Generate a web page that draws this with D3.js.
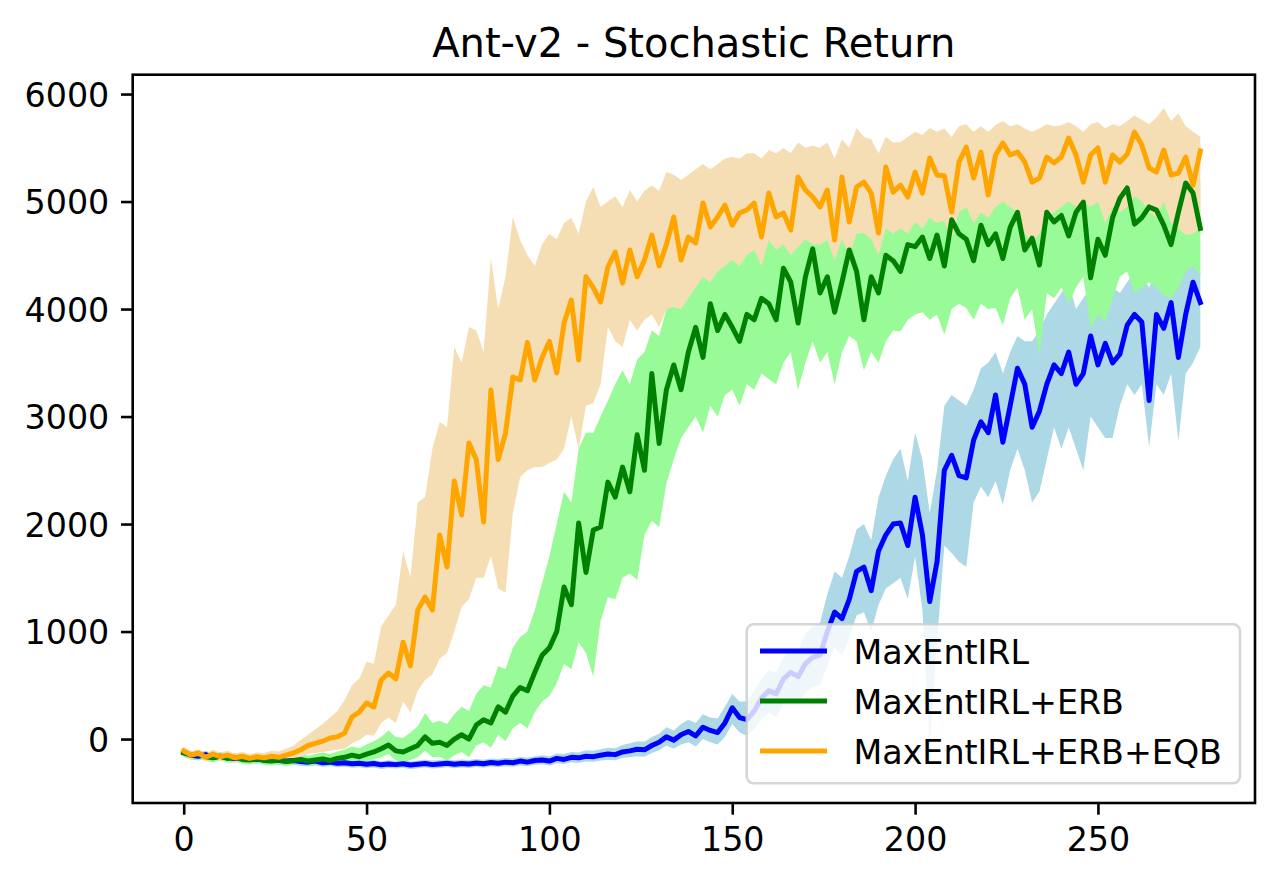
<!DOCTYPE html>
<html>
<head>
<meta charset="utf-8">
<script src="https://cdn.jsdelivr.net/npm/d3@7"></script>
<style>
  body { margin: 0; background: #fff; }
  svg { display: block; font-family: "DejaVu Sans", sans-serif; }
</style>
</head>
<body>
<div id="chart"></div>
<script>
// Ant-v2 - Stochastic Return : moyenne + bande par méthode, un point tous les 2 pas.
const steps = d3.range(0, 280, 2)

const maxentMean = [
  -120,-150,-160,-145,-170,-160,-175,-180,-170,-185,
  -190,-185,-195,-200,-205,-200,-210,-215,-205,-220,
  -215,-225,-220,-230,-225,-235,-228,-240,-232,-238,
  -230,-242,-235,-228,-238,-232,-225,-235,-228,-232,
  -222,-230,-218,-225,-215,-220,-205,-215,-200,-195,
  -205,-180,-190,-170,-175,-160,-165,-150,-140,-145,
  -120,-110,-95,-100,-60,-30,20,-10,40,70,
  30,110,80,60,150,290,200,180,260,380,
  450,420,560,620,580,700,760,780,1000,1180,
  1120,1300,1560,1600,1380,1750,1900,2000,2010,1800,
  2250,1900,1280,1650,2500,2640,2450,2430,2780,2950,
  2850,3200,2760,3100,3450,3300,2900,3050,3300,3480,
  3400,3600,3300,3400,3750,3480,3680,3500,3580,3850,
  3950,3880,3150,3950,3820,4060,3550,3950,4250,4060]
const maxentLo = [
  -160,-190,-200,-185,-205,-200,-215,-220,-210,-225,
  -230,-225,-235,-240,-245,-240,-250,-255,-245,-258,
  -252,-262,-258,-268,-262,-272,-265,-278,-270,-275,
  -268,-280,-272,-265,-275,-270,-262,-272,-265,-270,
  -260,-268,-256,-262,-254,-258,-245,-252,-240,-235,
  -245,-225,-232,-215,-222,-210,-212,-200,-195,-198,
  -175,-170,-160,-165,-130,-105,-60,-90,-50,-30,
  -70,0,-30,-50,20,140,60,30,90,190,
  250,200,330,380,330,430,480,500,680,850,
  780,940,1150,1180,1000,1250,1400,1450,1500,1300,
  1700,1200,-50,900,1800,1730,1650,1600,2200,2350,
  2250,2400,2180,2500,2700,2500,2200,2300,2600,2900,
  2700,2900,2700,2500,3000,2900,2800,2800,3100,3300,
  3200,3300,2720,3300,3200,3400,2770,3400,3500,3650]
const maxentHi = [
  -90,-110,-125,-110,-135,-125,-140,-145,-135,-150,
  -155,-150,-160,-165,-170,-165,-175,-180,-170,-185,
  -180,-190,-185,-195,-190,-200,-195,-205,-198,-202,
  -195,-208,-200,-192,-200,-195,-188,-198,-190,-195,
  -185,-192,-180,-186,-176,-180,-165,-175,-160,-150,
  -160,-135,-140,-120,-125,-105,-110,-95,-80,-85,
  -55,-40,-20,-25,20,50,110,80,140,180,
  150,230,200,190,300,420,350,350,450,560,
  640,620,760,850,830,980,1050,1080,1350,1560,
  1500,1700,1950,2000,1850,2250,2450,2600,2700,2400,
  2850,2600,2100,2500,3100,3200,3150,3100,3250,3450,
  3500,3600,3400,3600,3750,3700,3700,3800,3950,4050,
  4150,4250,4000,4100,4200,4150,4250,4200,4150,4250,
  4350,4300,4200,4350,4300,4420,4450,4400,4480,4350]

const erbMean = [
  -130,-150,-140,-165,-175,-160,-180,-170,-190,-195,
  -185,-200,-205,-195,-210,-200,-190,-205,-195,-185,
  -200,-180,-170,-150,-165,-140,-120,-90,-56,-110,
  -120,-90,-60,20,-40,-30,-60,0,40,0,
  130,180,150,300,250,400,480,450,620,780,
  850,1000,1414,1250,2009,1550,1944,1972,2390,2251,
  2530,2300,2830,2500,3400,2750,3250,3480,3250,3600,
  3830,3550,4050,3800,3950,3830,3700,3950,3900,4100,
  4050,3900,4380,4250,3870,4300,4560,4150,4300,3970,
  4250,4550,4350,3900,4300,4150,4500,4450,4350,4600,
  4580,4670,4470,4688,4400,4830,4700,4650,4450,4780,
  4600,4700,4470,4760,4900,4550,4660,4410,4900,4810,
  4870,4680,4900,4995,4290,4650,4500,4850,5030,5126,
  4790,4850,4950,4920,4780,4600,4900,5172,5080,4750]
const erbLo = [
  -170,-190,-180,-205,-215,-200,-220,-210,-230,-235,
  -225,-240,-245,-235,-250,-240,-232,-248,-240,-232,
  -250,-232,-225,-210,-228,-205,-190,-170,-140,-200,
  -215,-195,-170,-110,-170,-165,-200,-150,-120,-170,
  -60,-30,-80,40,-20,100,150,100,250,350,
  400,520,700,650,900,800,580,1100,1320,1300,
  1500,1540,1480,1900,2030,1970,2380,2600,2800,2900,
  3000,2850,3100,3000,3200,3250,3100,3300,3250,3400,
  3350,3300,3500,3600,3250,3500,3700,3500,3600,3300,
  3600,3750,3700,3430,3600,3500,3700,3800,3790,3900,
  3950,3970,3900,3950,3760,4000,4050,4010,3900,4050,
  4000,4010,3850,4100,4200,3900,4000,3570,4150,4100,
  4200,4050,4200,4300,3820,3950,3880,4100,4300,4350,
  4150,4200,4250,4200,4130,4100,4200,4350,4400,4316]
const erbHi = [
  -95,-115,-105,-130,-140,-120,-145,-130,-150,-155,
  -145,-160,-165,-150,-165,-155,-140,-155,-140,-125,
  -140,-115,-100,-70,-85,-50,-20,20,80,20,
  10,60,120,240,150,170,140,230,300,260,
  420,500,480,680,650,850,950,1000,1200,1450,
  1700,2000,2300,2200,2700,2850,2850,3000,3150,3300,
  3430,3300,3530,3600,3800,3750,4000,4050,4100,4200,
  4350,4300,4450,4400,4550,4500,4400,4550,4730,4650,
  4700,4600,4830,4750,4600,4850,4900,4800,4850,4700,
  4850,4950,4900,4700,4880,4850,4990,5000,4950,5050,
  5100,5150,5100,5180,5100,5220,5200,5150,5100,5200,
  5180,5150,5100,5200,5250,5150,5180,5100,5250,5200,
  5250,5200,5280,5300,5000,5200,5150,5250,5300,5300,
  5250,5250,5280,5250,5200,5150,5250,5300,5250,5180]

const eqbMean = [
  -110,-150,-130,-170,-140,-165,-150,-175,-160,-180,
  -165,-175,-160,-170,-150,-130,-100,-60,-40,-20,
  9,20,56,205,250,335,298,549,614,560,
  900,680,1200,1321,1200,1898,1600,2400,2084,2753,
  2600,2019,3247,2600,2846,3367,3340,3690,3340,3550,
  3700,3405,3870,4084,3526,4300,4200,4065,4391,4530,
  4242,4549,4300,4456,4688,4400,4600,4856,4456,4670,
  4614,4986,4763,4856,4967,4781,4893,4921,4986,4670,
  5079,4856,4893,4735,5228,5107,5042,4949,5107,4642,
  5228,4809,5135,5181,5079,4707,5321,5088,5153,5042,
  5274,5079,5405,5247,5240,4902,5367,5507,5219,5460,
  5060,5433,5544,5433,5460,5367,5181,5219,5414,5360,
  5414,5591,5433,5181,5433,5498,5181,5433,5367,5440,
  5646,5526,5312,5274,5479,5247,5265,5414,5153,5470]
const eqbLo = [
  -150,-190,-170,-210,-180,-205,-190,-215,-200,-220,
  -205,-215,-205,-215,-200,-185,-165,-140,-130,-120,
  -110,-100,-90,-40,-10,40,30,150,200,150,
  350,250,450,550,600,750,800,1000,1230,1300,
  1500,1500,1700,1400,1360,2100,2437,2500,2530,2530,
  2567,2600,2700,3000,2700,3100,3125,3300,3833,3700,
  3647,3898,3800,3900,3950,3833,4000,4019,4000,4100,
  4200,4300,4250,4350,4400,4456,4400,4500,4550,4400,
  4642,4550,4600,4500,4577,4650,4600,4600,4642,4450,
  4650,4500,4700,4707,4650,4500,4750,4700,4750,4700,
  4809,4750,4850,4800,4820,4650,4900,4950,4800,4900,
  4846,4950,5000,4950,4900,4700,4623,4700,4850,4900,
  4950,5000,4950,4995,4950,5000,4800,4950,4900,4950,
  5050,5000,4900,4850,5000,4800,4750,4688,4700,4750]
const eqbHi = [
  -75,-115,-95,-135,-100,-125,-110,-135,-120,-140,
  -125,-130,-110,-115,-90,-60,-10,40,90,140,
  200,260,360,500,560,720,700,1050,1150,1250,
  1750,1500,2200,2250,2700,2950,2900,3650,3500,3833,
  3800,3600,4474,4000,4300,4856,4640,4500,4400,4600,
  4700,4650,4800,4850,4700,5000,5135,4950,5000,5050,
  4950,5107,5000,5100,5150,5100,5274,5250,5200,5250,
  5300,5350,5300,5350,5400,5414,5400,5450,5450,5400,
  5480,5450,5498,5450,5550,5500,5520,5500,5550,5400,
  5580,5500,5684,5600,5580,5450,5600,5550,5553,5600,
  5650,5620,5684,5650,5680,5600,5700,5720,5650,5700,
  5650,5712,5750,5700,5720,5680,5650,5680,5720,5700,
  5710,5740,5700,5650,5720,5740,5680,5720,5700,5750,
  5800,5760,5720,5780,5870,5750,5820,5700,5650,5600]

const xTicks = [0, 50, 100, 150, 200, 250]
const yTicks = [0, 1000, 2000, 3000, 4000, 5000, 6000]
const labels = ["MaxEntIRL", "MaxEntIRL+ERB", "MaxEntIRL+ERB+EQB"]

const series = [
  { name: labels[0], mean: maxentMean, lo: maxentLo, hi: maxentHi, line: "blue", fill: "lightblue" },
  { name: labels[1], mean: erbMean, lo: erbLo, hi: erbHi, line: "green", fill: "palegreen" },
  { name: labels[2], mean: eqbMean, lo: eqbLo, hi: eqbHi, line: "orange", fill: "wheat" },
]

const W = 1280, H = 885
const plot = { left: 132.7, top: 74.7, right: 1255, bottom: 803 }
const fs = 33.3 // 10pt

const svg = d3.select("#chart").append("svg")
  .attr("width", W).attr("height", H)
  .attr("viewBox", `0 0 ${W} ${H}`)

// marges matplotlib 5 % autour des données
const x = d3.scaleLinear().domain([-13.95, 292.95]).range([plot.left, plot.right])
const y = d3.scaleLinear().domain([-595, 6180]).range([plot.bottom, plot.top])

const g = svg.append("g")

// Bandes d'abord, puis les courbes moyennes
series.forEach((s) => {
  const area = d3.area()
    .x((_, i) => x(steps[i]))
    .y0((_, i) => y(s.lo[i]))
    .y1((_, i) => y(s.hi[i]))
  g.append("path").datum(s.mean)
    .attr("d", area)
    .attr("fill", s.fill)
})

series.forEach((s) => {
  const line = d3.line()
    .x((_, i) => x(steps[i]))
    .y((d) => y(d))
  g.append("path").datum(s.mean)
    .attr("d", line)
    .attr("fill", "none")
    .attr("stroke", s.line)
    .attr("stroke-width", 5)
    .attr("stroke-linejoin", "round")
    .attr("stroke-linecap", "square")
})

// Cadre
svg.append("rect")
  .attr("x", plot.left).attr("y", plot.top)
  .attr("width", plot.right - plot.left).attr("height", plot.bottom - plot.top)
  .attr("fill", "none").attr("stroke", "#000").attr("stroke-width", 2.6)

// Axes
const tickLen = 11.7
const xAxis = svg.append("g").attr("transform", `translate(0,${plot.bottom})`)
  .call(d3.axisBottom(x).tickValues(xTicks).tickSize(tickLen).tickPadding(tickLen))
const yAxis = svg.append("g").attr("transform", `translate(${plot.left},0)`)
  .call(d3.axisLeft(y).tickValues(yTicks).tickSize(tickLen).tickPadding(tickLen).tickFormat(d3.format("d")))

;[xAxis, yAxis].forEach((a) => {
  a.select(".domain").remove()
  a.selectAll(".tick line").attr("stroke", "#000").attr("stroke-width", 2.6)
  a.selectAll(".tick text")
    .attr("fill", "#000")
    .attr("font-size", fs)
    .attr("font-family", "DejaVu Sans, sans-serif")
})
xAxis.selectAll(".tick text").attr("dy", "0.74em")
yAxis.selectAll(".tick text").attr("dy", "0.37em")

// Titre
svg.append("text")
  .attr("x", (plot.left + plot.right) / 2).attr("y", 57)
  .attr("text-anchor", "middle")
  .attr("font-size", 40)
  .attr("fill", "#000")
  .text("Ant-v2 - Stochastic Return")

// Légende en bas à droite
const leg = svg.append("g")
const lx = 746.7, ly = 624.3, lw = 493.3, lh = 159
leg.append("rect")
  .attr("x", lx).attr("y", ly).attr("width", lw).attr("height", lh)
  .attr("rx", 7).attr("ry", 7)
  .attr("fill", "#fff").attr("fill-opacity", 0.8)
  .attr("stroke", "#cccccc").attr("stroke-opacity", 0.8).attr("stroke-width", 2.6)

series.forEach((s, i) => {
  const cy = 651 + i * 50
  leg.append("line")
    .attr("x1", 760).attr("x2", 827)
    .attr("y1", cy).attr("y2", cy)
    .attr("stroke", s.line).attr("stroke-width", 5)
  leg.append("text")
    .attr("x", 853.5).attr("y", cy)
    .attr("dy", "0.39em")
    .attr("font-size", fs)
    .attr("fill", "#000")
    .text(s.name)
})
</script>
</body>
</html>
